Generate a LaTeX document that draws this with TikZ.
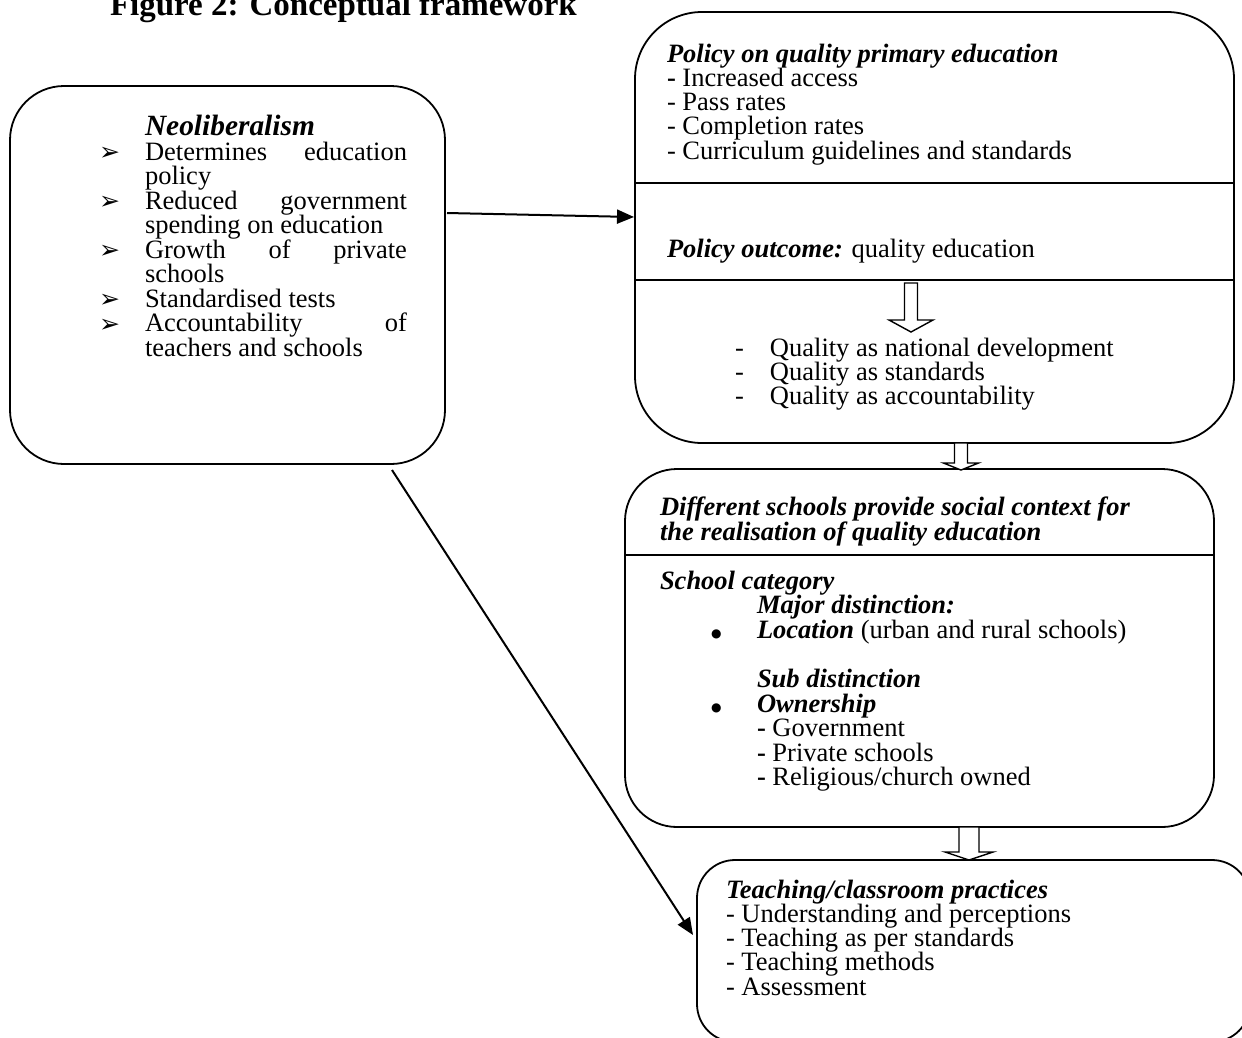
\documentclass[tikz,border=0pt]{standalone}
\usepackage{fontspec}
\setmainfont{Liberation Serif}
\newfontfamily\djv{DejaVu Sans}
\usetikzlibrary{arrows.meta,calc}
\newcommand{\txtblock}[3]{\parbox[t]{#1}{\fontsize{26.5pt}{#2}\selectfont\raggedright #3}}
\newcommand{\bi}[1]{\textbf{\textit{#1}}}
\newcommand{\arrbul}{\leavevmode\llap{\makebox[46pt][l]{\raisebox{-0.5pt}{\fontsize{25pt}{25pt}\djv ➢}}}}
\newcommand{\dotbul}{\llap{\makebox[46pt][l]{\raisebox{1pt}{\fontsize{12pt}{12pt}\djv ●}}}}
\begin{document}
\begin{tikzpicture}[x=1pt,y=-1pt,
  txt/.style={anchor=base west, inner sep=0, outer sep=0},
  rbox/.style={draw, line width=1.8pt, anchor=north west, inner sep=0, outer sep=0},
  div/.style={line width=1.4pt},
  hollow/.style={draw, fill=white, line width=1.4pt, line join=miter},
  conn/.style={line width=2pt, -{Triangle[length=17pt,width=14pt]}}]
\useasboundingbox (0,0) rectangle (1242,1037);
\clip (0,0) rectangle (1242,1037);

% boxes
\node[rbox, rounded corners=54pt, minimum width=435pt, minimum height=378pt] (nl) at (10,86) {};
\node[rbox, rounded corners=67pt, minimum width=599pt, minimum height=431pt] (pol) at (635,12) {};
\node[rbox, rounded corners=52pt, minimum width=589pt, minimum height=358pt] (sch) at (625,469) {};
\node[rbox, rounded corners=38pt, minimum width=553pt, minimum height=182pt] (tp) at (697,860) {};

% dividers
\draw[div] ($(pol.north west)+(0,171)$) -- ($(pol.north east)+(0,171)$);
\draw[div] ($(pol.north west)+(0,268)$) -- ($(pol.north east)+(0,268)$);
\draw[div] ($(sch.north west)+(0,86)$) -- ($(sch.north east)+(0,86)$);

% title
\node[txt] (title) at (110,15) {\fontsize{33pt}{36pt}\selectfont\bfseries Figure 2: Conceptual framework};

% neoliberalism box
\node[txt] (nlh) at (145,135) {\fontsize{29.4pt}{32pt}\selectfont\bfseries\itshape Neoliberalism};
\node[txt] (nll) at (145,160) {\parbox[t]{262pt}{\fontsize{26.5pt}{24.55pt}\selectfont
  \hyphenpenalty=10000 \exhyphenpenalty=10000 \tolerance=10000 \parindent=0pt \parskip=0pt
  \arrbul Determines education policy\par
  \arrbul Reduced government spending on education\par
  \arrbul Growth of private schools\par
  \arrbul Standardised tests\par
  \arrbul Accountability of teachers and schools\par}};

% policy box
\node[txt] (polt) at (667,62) {\txtblock{520pt}{24.3pt}{\bi{Policy on quality primary education}\\
  \textbf{-} Increased access\\
  - Pass rates\\
  - Completion rates\\
  - Curriculum guidelines and standards}};
\node[txt] (polo) at (667,257) {\txtblock{520pt}{24.3pt}{\bi{Policy outcome:} quality education}};
\node[txt] (polq) at (735,356) {\txtblock{480pt}{24.2pt}{\makebox[35pt][l]{-}Quality as national development\\
  \makebox[35pt][l]{-}Quality as standards\\
  \makebox[35pt][l]{-}Quality as accountability}};

% school box
\node[txt] (schh) at (660,515) {\txtblock{520pt}{25pt}{\bi{Different schools provide social context for}\\
  \bi{the realisation of quality education}}};
\node[txt] (schb) at (660,589) {\txtblock{520pt}{24.6pt}{\bi{School category}\\
  \hspace*{97pt}\bi{Major distinction:}\\
  \hspace*{97pt}\dotbul\bi{Location} (urban and rural schools)\\
  \mbox{}\\
  \hspace*{97pt}\bi{Sub distinction}\\
  \hspace*{97pt}\dotbul\bi{Ownership}\\
  \hspace*{97pt}\textbf{-} Government\\
  \hspace*{97pt}\textbf{-} Private schools\\
  \hspace*{97pt}\textbf{-} Religious/church owned}};

% teaching box
\node[txt] (tpt) at (726,898) {\txtblock{500pt}{24.3pt}{\bi{Teaching/classroom practices}\\
  - Understanding and perceptions\\
  - Teaching as per standards\\
  - Teaching methods\\
  - Assessment}};

% hollow block arrows
\draw[hollow] ($(pol.north west)+(276,271)$) ++(-6.5,0) -- ++(0,37) -- ++(-15.5,0) -- ++(22,12) -- ++(22,-12) -- ++(-15.5,0) -- ++(0,-37) -- cycle;
\draw[hollow] ($(pol.south)+(26.5,0)$) ++(-6.5,0) -- ++(0,20) -- ++(-11,0) -- ++(17.5,7) -- ++(17.5,-7) -- ++(-11,0) -- ++(0,-20) -- cycle;
\draw[hollow] ($(sch.south)+(49.5,0)$) ++(-10,0) -- ++(0,25) -- ++(-14,0) -- ++(24,8) -- ++(24,-8) -- ++(-14,0) -- ++(0,-25) -- cycle;

% connectors
\draw[conn] ($(nl.east)+(2,-62)$) -- ($(pol.west)+(-1,-10.5)$);
\draw[conn] ($(nl.south)+(164.5,6)$) -- ($(tp.west)+(-4,-16)$);
\end{tikzpicture}
\end{document}
